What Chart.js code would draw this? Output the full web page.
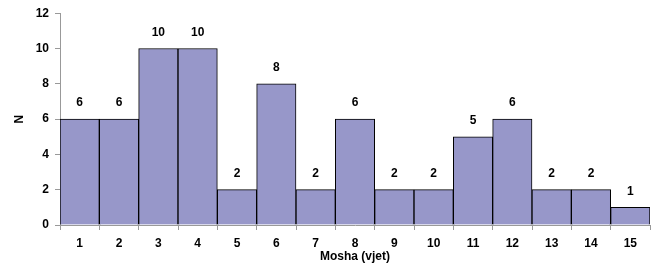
<!DOCTYPE html>
<html>
<head>
<meta charset="utf-8">
<script src="https://cdn.jsdelivr.net/npm/chart.js@4"></script>
<style>
  html, body { margin: 0; padding: 0; background: #fff; }
  #wrap { width: 651px; height: 271px; }
</style>
</head>
<body>
<div id="wrap"><canvas id="chartMosha" width="651" height="271"></canvas></div>
<script>
// Mosha (vjet) dhe numri N
const moshaLabels = ["1", "2", "3", "4", "5", "6", "7", "8", "9", "10", "11", "12", "13", "14", "15"];
const nValues = [6, 6, 10, 10, 2, 8, 2, 6, 2, 2, 5, 6, 2, 2, 1];
const yTicks = [0, 2, 4, 6, 8, 10, 12];

const fontBold = { family: "'Liberation Sans', Arial, sans-serif", size: 12, weight: "bold" };

// vizato vlerat mbi shtylla
const vleraPlugin = {
  id: "vlera",
  afterDatasetsDraw(chart) {
    const ctx = chart.ctx;
    const meta = chart.getDatasetMeta(0);
    ctx.save();
    ctx.font = "bold 12px 'Liberation Sans', Arial, sans-serif";
    ctx.fillStyle = "#000";
    ctx.textAlign = "center";
    ctx.textBaseline = "bottom";
    meta.data.forEach((bar, i) => {
      ctx.fillText(String(nValues[i]), bar.x, bar.y - 10);
    });
    ctx.restore();
  }
};

new Chart(document.getElementById("chartMosha"), {
  type: "bar",
  data: {
    labels: moshaLabels,
    datasets: [{
      data: nValues,
      backgroundColor: "#9797c9",
      borderColor: "#000",
      borderWidth: 1,
      categoryPercentage: 1.0,
      barPercentage: 1.0
    }]
  },
  options: {
    responsive: false,
    animation: false,
    layout: { padding: { top: 12, right: 1, left: 0, bottom: 7 } },
    plugins: {
      legend: { display: false },
      tooltip: { enabled: false }
    },
    scales: {
      x: {
        offset: true,
        grid: { offset: true, drawOnChartArea: false, tickLength: 5, color: "#999" },
        border: { color: "#999" },
        ticks: { color: "#000", font: fontBold, padding: 6, maxRotation: 0 },
        title: { display: true, text: "Mosha (vjet)", color: "#000", font: fontBold, padding: { top: 2, bottom: 0 } },
        afterFit(scale) { scale.height = 39; }
      },
      y: {
        min: 0,
        max: 12,
        afterBuildTicks(scale) { scale.ticks = yTicks.map(v => ({ value: v })); },
        grid: { drawOnChartArea: false, tickLength: 5, color: "#999" },
        border: { color: "#999" },
        ticks: { color: "#000", font: fontBold, padding: 6 },
        title: { display: true, text: "N", color: "#000", font: fontBold, padding: { top: 12, bottom: 0 } },
        afterFit(scale) { scale.width = 60; }
      }
    }
  },
  plugins: [vleraPlugin]
});
</script>
</body>
</html>
